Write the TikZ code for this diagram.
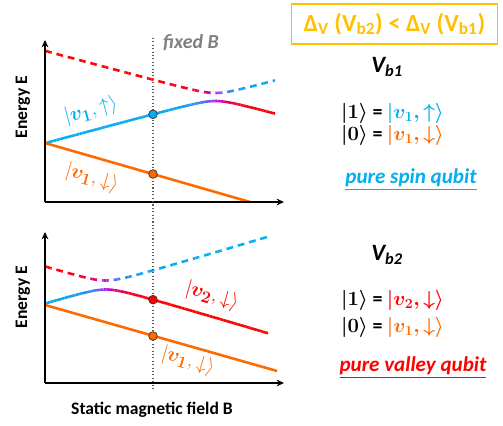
\documentclass[tikz,border=0pt]{standalone}
\usepackage[no-math]{fontspec}
\setmainfont{Carlito}
\usepackage{amsmath,amssymb}
\usepackage{bm}
\usetikzlibrary{arrows.meta, positioning}
\definecolor{qcyan}{HTML}{00B0F0}
\definecolor{qorange}{HTML}{FF6A00}
\definecolor{qred}{HTML}{FF0000}
\definecolor{qviolet}{HTML}{9B3BF5}
\definecolor{qmagenta}{HTML}{CC00CC}
\definecolor{qgold}{HTML}{FFC000}
\definecolor{qgray}{HTML}{808080}

% colour along an anticrossing branch: 0 = cyan, 1 = red
\newcommand{\gradset}[1]{%
  \pgfmathsetmacro\gf{#1}%
  \ifdim\gf pt<0.4pt
    \pgfmathtruncatemacro\gp{100-250*\gf}\colorlet{segc}{qcyan!\gp!qviolet}%
  \else\ifdim\gf pt<0.65pt
    \pgfmathtruncatemacro\gp{100-400*(\gf-0.4)}\colorlet{segc}{qviolet!\gp!qmagenta}%
  \else
    \pgfmathtruncatemacro\gp{100-(\gf-0.65)*100/0.35}\colorlet{segc}{qmagenta!\gp!qred}%
  \fi\fi}
% #1 branch function, #2 x start, #3 x end, #4 mixing (in \xm)
\newcommand{\branch}[4]{%
  \foreach \i in {0,...,79}{%
    \pgfmathsetmacro\xa{#2+(#3-#2)/80*\i}%
    \pgfmathsetmacro\xb{#2+(#3-#2)/80*(\i+1)}%
    \pgfmathsetmacro\xm{(\xa+\xb)/2}%
    \gradset{#4}%
    \draw[curve, segc] plot[domain=\xa:\xb, samples=2] (\x, {#1(\x)});
  }}

\tikzset{
  curve/.style={line width=2.2pt, line cap=butt},
  gapmask/.style={white, line width=2.9pt, dash pattern=on 4pt off 6pt, dash phase=4pt},
  axis/.style={line width=1.1pt, -{Stealth[length=2.2mm, width=2mm]}},
  statedot/.style={circle, draw=black!80, line width=0.6pt, minimum size=2.6mm, inner sep=0pt},
  axisfont/.style={font=\fontsize{15}{17}\selectfont\bfseries},
  lbl/.style={font=\fontsize{19}{21}\selectfont, inner sep=1pt},
  eqline/.style={anchor=west, font=\fontsize{17}{19}\selectfont\bfseries},
  declare function={
    topc(\x)=143-0.27*(\x-45); topr(\x)=51+0.27*(\x-45);
    toplo(\x)=(topc(\x)+topr(\x))/2+sqrt(((topc(\x)-topr(\x))/2)^2+16);
    tophi(\x)=(topc(\x)+topr(\x))/2-sqrt(((topc(\x)-topr(\x))/2)^2+16);
    topmix(\x)=0.5*(1+((\x-215.4)/10)/sqrt(((\x-215.4)/10)^2+2.25));
    botc(\x)=303-0.296*(\x-45); botr(\x)=267+0.296*(\x-45);
    botlo(\x)=(botc(\x)+botr(\x))/2+sqrt(((botc(\x)-botr(\x))/2)^2+20);
    bothi(\x)=(botc(\x)+botr(\x))/2-sqrt(((botc(\x)-botr(\x))/2)^2+20);
    botmix(\x)=0.5*(1+((\x-105.8)/10)/sqrt(((\x-105.8)/10)^2+2.25));
  }
}

\begin{document}
\begin{tikzpicture}[x=0.03cm, y=-0.03cm]
  \useasboundingbox (0,0) rectangle (503,426);

  % upper panel, V_b1
  \branch{toplo}{45}{275}{topmix(\xm)}
  \branch{tophi}{45}{275}{1-topmix(\xm)}
  \draw[gapmask] plot[domain=45:275, samples=150] (\x, {tophi(\x)});
  \draw[curve, qorange] (45,143) -- (250,202);
  \coordinate (o1) at (45,202);
  \draw[axis] (o1) -- (45,40);
  \draw[axis] (o1) -- (284,202);

  % lower panel, V_b2
  \branch{botlo}{45}{268}{botmix(\xm)}
  \branch{bothi}{45}{268}{1-botmix(\xm)}
  \draw[gapmask] plot[domain=45:268, samples=150] (\x, {bothi(\x)});
  \draw[curve, qorange] (45,305) -- (277,371);
  \coordinate (o2) at (45,383);
  \draw[axis] (o2) -- (45,232);
  \draw[axis] (o2) -- (284,383);

  % fixed field
  \coordinate (fb1) at (153,38);
  \coordinate (fb2) at (153,389);
  \draw[qgray!70!black, dotted, line width=0.9pt] (fb1) -- (fb2);
  \node[statedot, fill=qcyan] (d1) at (153,{toplo(153)}) {};
  \node[statedot, fill=qorange] (d2) at (153,174) {};
  \node[statedot, fill=qred] (d3) at (153,{botlo(153)}) {};
  \node[statedot, fill=qorange] (d4) at (153,336) {};
  \node[qgray, anchor=west, font=\fontsize{17}{19}\selectfont\bfseries\itshape] (fixb) at (159,43) {fixed B};

  \node[axisfont, rotate=90] (ey1) at (23,107) {Energy E};
  \node[axisfont, rotate=90] (ey2) at (23,297) {Energy E};
  \node[axisfont] (bx) at (152,410) {Static magnetic field B};

  % state labels on the curves
  \node[lbl, qcyan, rotate=15] (up1) at (91,111) {$|\bm{v}_{\bm{1}},\uparrow\rangle$};
  \node[lbl, qorange, rotate=-16] (dn1) at (92,178) {$|\bm{v}_{\bm{1}},\downarrow\rangle$};
  \node[lbl, qred, rotate=-16] (dn2) at (212,296) {$|\bm{v}_{\bm{2}},\downarrow\rangle$};
  \node[lbl, qorange, rotate=-16] (dn3) at (188,361) {$|\bm{v}_{\bm{1}},\downarrow\rangle$};

  % right column
  \node[draw=qgold, line width=1.5pt, text=qgold, minimum width=6.18cm, minimum height=1.2cm,
    font=\fontsize{21}{23}\selectfont\bfseries] (cmp) at (394.5,24)
    {Δ\textsubscript{V} (V\textsubscript{b2}) < Δ\textsubscript{V} (V\textsubscript{b1})};

  \node[font=\fontsize{20}{22}\selectfont\bfseries\itshape] (vb1) at (387,67) {V\textsubscript{b1}};
  \node[eqline] (one1) at (337,113) {$\bm{|1\rangle}$ = \textcolor{qcyan}{$\bm{|v_1,\uparrow\rangle}$}};
  \node[eqline] (zero1) at (337,135) {$\bm{|0\rangle}$ = \textcolor{qorange}{$\bm{|v_1,\downarrow\rangle}$}};
  \node[qcyan, font=\fontsize{18}{20}\selectfont\bfseries\itshape] (spin) at (411,180) {\underline{pure spin qubit}};

  \node[font=\fontsize{20}{22}\selectfont\bfseries\itshape] (vb2) at (387,255) {V\textsubscript{b2}};
  \node[eqline] (one2) at (337,300) {$\bm{|1\rangle}$ = \textcolor{qred}{$\bm{|v_2,\downarrow\rangle}$}};
  \node[eqline] (zero2) at (337,327) {$\bm{|0\rangle}$ = \textcolor{qorange}{$\bm{|v_1,\downarrow\rangle}$}};
  \node[qred, font=\fontsize{18}{20}\selectfont\bfseries\itshape] (valley) at (413,368) {\underline{pure valley qubit}};
\end{tikzpicture}
\end{document}
